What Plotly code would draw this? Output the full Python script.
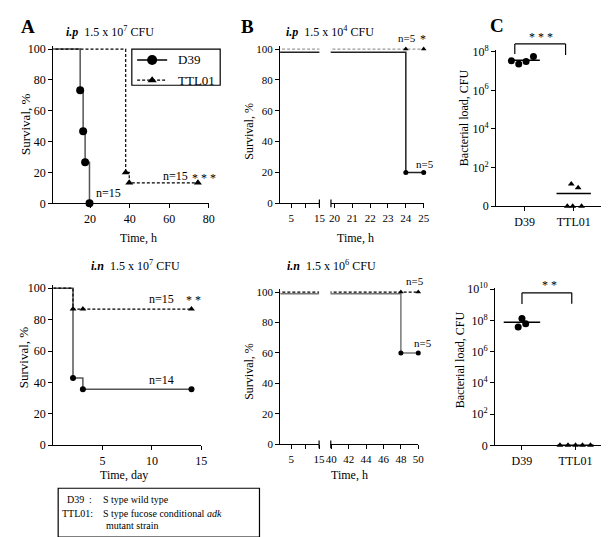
import plotly.graph_objects as go

W, H = 611, 537
FONT = "Liberation Serif"

# ---------------- data ----------------
# Panel A (top): i.p 1.5 x 10^7 CFU, time in hours
a1_d39_time = [0, 15, 16.5, 17.5, 19.7]
a1_d39_surv = [100, 73.3, 46.7, 26.7, 0]
a1_ttl_time = [0, 38, 39.8, 74.5]
a1_ttl_surv = [100, 20, 13.3, 13.3]
# Panel A (bottom): i.n 1.5 x 10^7 CFU, time in days
a2_d39_time = [0, 2, 3, 14]
a2_d39_surv = [100, 42.9, 35.7, 35.7]
a2_ttl_time = [0, 2, 3, 14]
a2_ttl_surv = [100, 86.7, 86.7, 86.7]
# Panel B (top): i.p 1.5 x 10^4 CFU, time in hours
b1_d39_time = [0, 24, 25]
b1_d39_surv = [98, 20, 20]
b1_ttl_time = [0, 24, 25]
b1_ttl_surv = [100, 100, 100]
# Panel B (bottom): i.n 1.5 x 10^6 CFU, time in hours
b2_d39_time = [0, 48, 50]
b2_d39_surv = [99, 60, 60]
b2_ttl_time = [0, 48, 50]
b2_ttl_surv = [100, 100, 100]
# Panel C: bacterial load, CFU
c_groups = ["D39", "TTL01"]
c1_d39 = [3.4e7, 2.3e7, 3.1e7, 5.6e7]
c1_ttl = [14, 9, 0, 0, 0]
c2_d39 = [1.3e8, 3.8e7, 6.2e7]
c2_ttl = [0, 0, 0, 0, 0]

surv_ticks = [0, 20, 40, 60, 80, 100]
legend_names = ["D39", "TTL01"]

# ---------------- helpers ----------------
def fx(p):
    return p / W

def fy(p):
    return 1 - p / H

fig = go.Figure()

def step_pair(xa, ya, t, s, color, dash, symbol, msize, lw=1.5, mcolor="black"):
    fig.add_trace(go.Scatter(x=t, y=s, mode="lines", line=dict(color=color, width=lw, dash=dash, shape="hv"),
                             xaxis=xa, yaxis=ya, showlegend=False, hoverinfo="skip"))
    fig.add_trace(go.Scatter(x=t[1:], y=s[1:], mode="markers",
                             marker=dict(symbol=symbol, size=msize, color=mcolor),
                             xaxis=xa, yaxis=ya, showlegend=False, cliponaxis=False, hoverinfo="skip"))

DASH_A = "3px,2px"

# A top
step_pair("x", "y", a1_d39_time, a1_d39_surv, "#555", "solid", "circle", 8)
step_pair("x", "y", a1_ttl_time, a1_ttl_surv, "black", DASH_A, "triangle-up", 7, lw=1.2)

# A bottom
step_pair("x2", "y2", a2_d39_time, a2_d39_surv, "#555", "solid", "circle", 6)
step_pair("x2", "y2", a2_ttl_time, a2_ttl_surv, "black", DASH_A, "triangle-up", 6, lw=1.2)

# B top (broken axis: two x segments)
for xa in ("x3", "x4"):
    step_pair(xa, "y3", b1_d39_time, b1_d39_surv, "#222", "solid", "circle", 5)
    step_pair(xa, "y3", b1_ttl_time, b1_ttl_surv, "#999", DASH_A, "triangle-up", 5, lw=1.2)
# B bottom
for xa in ("x5", "x6"):
    step_pair(xa, "y4", b2_d39_time, b2_d39_surv, "#777", "solid", "circle", 5)
    step_pair(xa, "y4", b2_ttl_time, b2_ttl_surv, "black", DASH_A, "triangle-up", 5, lw=1.2)

# C panels
def scatter_group(xa, ya, pos, vals, offsets, symbol, size, half):
    fig.add_trace(go.Scatter(x=[pos + o for o in offsets], y=[max(v, 1) for v in vals], mode="markers",
                             marker=dict(symbol=symbol, size=size, color="black"),
                             xaxis=xa, yaxis=ya, showlegend=False, cliponaxis=False, hoverinfo="skip"))
    m = max(sum(vals) / len(vals), 1)
    fig.add_trace(go.Scatter(x=[pos - half, pos + half], y=[m, m], mode="lines",
                             line=dict(color="black", width=1.5),
                             xaxis=xa, yaxis=ya, showlegend=False, cliponaxis=False, hoverinfo="skip"))

scatter_group("x7", "y5", 1, c1_d39, [-0.27, -0.12, 0.03, 0.18], "circle", 7, 0.31)
scatter_group("x7", "y5", 2, c1_ttl, [-0.05, 0.09, -0.13, -0.02, 0.16], "triangle-up", 6, 0.35)
scatter_group("x8", "y6", 1, c2_d39, [0, -0.07, 0.07], "circle", 7, 0.34)
scatter_group("x8", "y6", 2, c2_ttl, [-0.29, -0.14, 0, 0.13, 0.28], "triangle-up", 6, 0.34)

# legend samples for panel A (drawn on a hidden helper axis spanning the legend box)
fig.add_trace(go.Scatter(x=[0.06, 0.40], y=[0.70, 0.70], mode="lines", line=dict(color="black", width=1.5),
                         xaxis="x9", yaxis="y9", showlegend=False, hoverinfo="skip"))
fig.add_trace(go.Scatter(x=[0.23], y=[0.70], mode="markers", marker=dict(symbol="circle", size=10, color="black"),
                         xaxis="x9", yaxis="y9", showlegend=False, hoverinfo="skip"))
fig.add_trace(go.Scatter(x=[0.06, 0.40], y=[0.14, 0.14], mode="lines",
                         line=dict(color="black", width=1.2, dash=DASH_A),
                         xaxis="x9", yaxis="y9", showlegend=False, hoverinfo="skip"))
fig.add_trace(go.Scatter(x=[0.23], y=[0.14], mode="markers", marker=dict(symbol="triangle-up", size=8, color="black"),
                         xaxis="x9", yaxis="y9", showlegend=False, hoverinfo="skip"))

# ---------------- axes ----------------
base = dict(showline=True, linecolor="black", linewidth=1.2, ticks="outside", ticklen=4, tickwidth=1,
            tickcolor="black", showgrid=False, zeroline=False,
            tickfont=dict(family=FONT, size=12, color="black"))
baseB = dict(base, tickfont=dict(family=FONT, size=11, color="black"))

def xd(a, b):
    return [fx(a), fx(b)]

def yd(bottom, top):
    return [fy(bottom), fy(top)]

layout_axes = dict(
    xaxis=dict(base, domain=xd(41, 199.4), range=[1.4, 80], tickvals=[20, 40, 60, 80], anchor="y"),
    yaxis=dict(base, domain=yd(194, 194 - 102 * 1.58), range=[0, 102], tickvals=surv_ticks, anchor="x"),
    xaxis2=dict(base, domain=xd(41, 191.8), range=[0, 15], tickvals=[5, 10, 15], anchor="y2"),
    yaxis2=dict(base, domain=yd(442, 442 - 102 * 1.61), range=[0, 102], tickvals=surv_ticks, anchor="x2"),
    xaxis3=dict(baseB, domain=xd(272, 312), range=[1.06, 15], tickvals=[5, 10, 15], ticktext=["5", "", "15"], anchor="y3"),
    xaxis4=dict(baseB, domain=xd(323.5, 418.2), range=[19.79, 25], tickvals=[20, 21, 22, 23, 24, 25], anchor="y3"),
    yaxis3=dict(baseB, domain=yd(194, 194 - 102 * 1.58), range=[0, 102], tickvals=surv_ticks, anchor="x3"),
    xaxis5=dict(baseB, domain=xd(272.3, 311.7), range=[1.1, 15], tickvals=[5, 10, 15], ticktext=["5", "", "15"], anchor="y4"),
    xaxis6=dict(baseB, domain=xd(323.3, 412.7), range=[39.9, 50], tickvals=[40, 42, 44, 46, 48, 50], anchor="y4"),
    yaxis4=dict(baseB, domain=yd(441, 441 - 102 * 1.56), range=[0, 102], tickvals=surv_ticks, anchor="x5"),
    xaxis7=dict(base, domain=xd(492, 599), range=[0.42, 2.56], tickvals=[1, 2], ticktext=c_groups, anchor="y5"),
    yaxis5=dict(base, type="log", domain=yd(197, 197 - 8.1 * 19.8), range=[0, 8.1],
                tickvals=[1, 1e2, 1e4, 1e6, 1e8],
                ticktext=["0", "10<sup>2</sup>", "10<sup>4</sup>", "10<sup>6</sup>", "10<sup>8</sup>"], anchor="x7"),
    xaxis8=dict(base, domain=xd(491, 599), range=[0.5, 2.48], tickvals=[1, 2], ticktext=c_groups, anchor="y6"),
    yaxis6=dict(base, type="log", domain=yd(442, 442 - 10.1 * 16), range=[0, 10.1],
                tickvals=[1, 1e2, 1e4, 1e6, 1e8, 1e10],
                ticktext=["0", "10<sup>2</sup>", "10<sup>4</sup>", "10<sup>6</sup>", "10<sup>8</sup>", "10<sup>10</sup>"],
                anchor="x8"),
    xaxis9=dict(domain=xd(121, 211), range=[0, 1], visible=False, anchor="y9", fixedrange=True),
    yaxis9=dict(domain=yd(73, 36), range=[0, 1], visible=False, anchor="x9", fixedrange=True),
)

# ---------------- annotations ----------------
anns = []

def ann(text, x, y, size=12, xanchor="center", angle=0, color="black"):
    anns.append(dict(text=text, x=fx(x), y=fy(y), xref="paper", yref="paper", showarrow=False,
                     xanchor=xanchor, yanchor="middle", textangle=angle,
                     font=dict(family=FONT, size=size, color=color)))

# panel letters
ann("<b>A</b>", 15, 13, size=19)
ann("<b>B</b>", 239, 13, size=19)
ann("<b>C</b>", 493, 12, size=19)
# panel titles
ann("<b><i>i.p</i></b>  1.5 x 10<sup>7</sup> CFU", 99, 18, size=12)
ann("<b><i>i.p</i></b>  1.5 x 10<sup>4</sup> CFU", 323, 18, size=12)
ann("<b><i>i.n</i></b>  1.5 x 10<sup>7</sup> CFU", 125, 258, size=12)
ann("<b><i>i.n</i></b>  1.5 x 10<sup>6</sup> CFU", 324, 258, size=12)
# axis titles
ann("Time, h", 128, 230, size=12)
ann("Time, h", 349, 230, size=12)
ann("Time, day", 113, 472, size=12)
ann("Time, h", 343, 472, size=12)
ann("Survival, %", 12, 113, size=13, angle=-90)
ann("Survival, %", 11, 352, size=13, angle=-90)
ann("Survival, %", 240, 120, size=12, angle=-90)
ann("Survival, %", 240, 366, size=12, angle=-90)
ann("Bacterial load, CFU", 460, 106, size=12, angle=-90)
ann("Bacterial load, CFU", 456, 354, size=12, angle=-90)
# n labels / significance
ann("n=15", 97, 183)
ann("n=15", 165, 166)
ann("* * *", 195, 168, size=12)
ann("n=15", 151, 292)
ann("* *", 184, 293, size=12)
ann("n=14", 151, 375)
ann("n=5", 401, 25, size=11)
ann("*", 418, 26, size=12)
ann("n=5", 420, 154, size=11)
ann("n=5", 409, 274, size=11)
ann("n=5", 418, 337, size=11)
ann("* * *", 538, 24, size=12)
ann("* *", 546, 278, size=12)
# panel A legend labels
ann(legend_names[0], 166, 47, size=13, xanchor="left")
ann(legend_names[1], 166, 68, size=13, xanchor="left")
# bottom legend text
ann("D39", 53, 498, size=10, xanchor="left")
ann(":", 75, 498, size=10, xanchor="left")
ann("S type wild type", 90, 498, size=10, xanchor="left")
ann("TTL01:", 48, 511.5, size=10, xanchor="left")
ann("S type fucose conditional <i>adk</i>", 90, 511.5, size=10, xanchor="left")
ann("mutant strain", 93, 524.5, size=10, xanchor="left")

# ---------------- shapes ----------------
shapes = []

def seg(x0, y0, x1, y1, w=1.2):
    shapes.append(dict(type="line", xref="paper", yref="paper", x0=fx(x0), y0=fy(y0), x1=fx(x1), y1=fy(y1),
                       line=dict(color="black", width=w)))

# axis break marks in B
seg(312, 190, 312, 198)
seg(323.8, 190, 323.8, 198)
seg(311.7, 437, 311.7, 445)
seg(323.6, 437, 323.6, 445)
# significance brackets in C
seg(511, 41, 511, 30.7)
seg(511, 30.7, 562.7, 30.7)
seg(562.7, 30.7, 562.7, 42)
seg(518.3, 297.3, 518.3, 285.7)
seg(518.3, 285.7, 569, 285.7)
seg(569, 285.7, 569, 297)
# legend boxes
shapes.append(dict(type="rect", xref="paper", yref="paper", x0=fx(121), x1=fx(211), y0=fy(73), y1=fy(36),
                   line=dict(color="black", width=1.2), layer="below", fillcolor="white"))
shapes.append(dict(type="rect", xref="paper", yref="paper", x0=fx(46), x1=fx(251), y0=fy(536), y1=fy(486),
                   line=dict(color="black", width=1.2)))

fig.update_layout(
    width=W, height=H, margin=dict(l=0, r=0, t=0, b=0),
    paper_bgcolor="white", plot_bgcolor="rgba(0,0,0,0)",
    font=dict(family=FONT, size=12, color="black"),
    showlegend=False,
    annotations=anns, shapes=shapes,
    **layout_axes,
)

fig.write_html("out.html")
